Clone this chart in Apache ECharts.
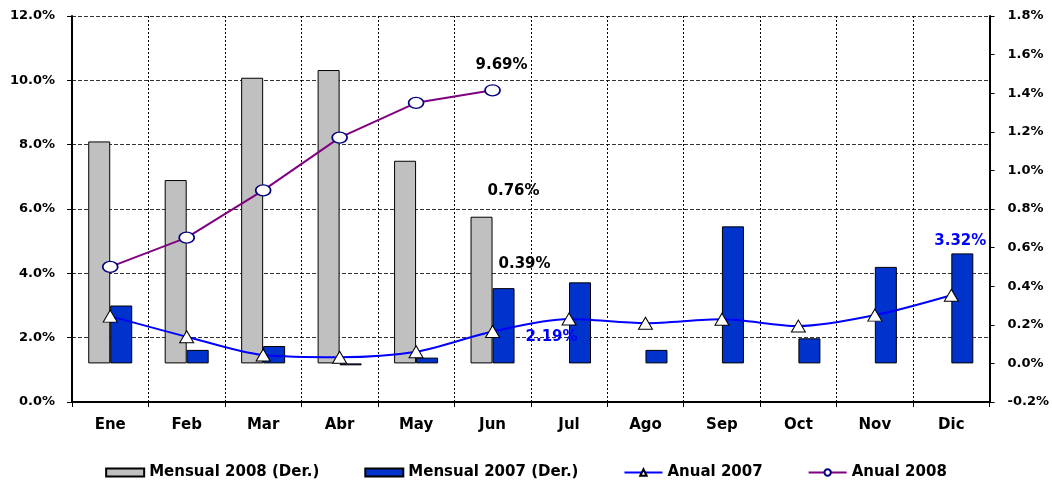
<!DOCTYPE html>
<html>
<head>
<meta charset="utf-8">
<script src="https://cdn.jsdelivr.net/npm/echarts@6/dist/echarts.min.js"></script>
<style>
  html, body { margin: 0; padding: 0; background: #fff; }
  #chart { width: 1052px; height: 481px; }
</style>
</head>
<body>
<div id="chart"></div>
<script>
const months = ['Ene', 'Feb', 'Mar', 'Abr', 'May', 'Jun', 'Jul', 'Ago', 'Sep', 'Oct', 'Nov', 'Dic']
// right axis, monthly change in %
const mensual2008 = [1.15, 0.95, 1.48, 1.52, 1.05, 0.76, null, null, null, null, null, null]
const mensual2007 = [0.30, 0.07, 0.09, -0.01, 0.03, 0.39, 0.42, 0.07, 0.71, 0.13, 0.50, 0.57]
// left axis, yearly change in %
const anual2007 = [2.67, 2.03, 1.46, 1.39, 1.56, 2.19, 2.58, 2.45, 2.57, 2.36, 2.70, 3.32]
const anual2008 = [4.20, 5.11, 6.58, 8.22, 9.30, 9.69, null, null, null, null, null, null]

const font = 'DejaVu Sans, Verdana, sans-serif'
const pct = v => v.toFixed(1) + '%'

// a few points carry a value label
function withLabel(arr, idx, color, offset, position) {
  return arr.map((v, i) => {
    if (i !== idx) return v
    return {
      value: v,
      label: {
        show: true,
        position: position,
        offset: offset,
        formatter: v.toFixed(2) + '%',
        color: color,
        fontFamily: font,
        fontWeight: 'bold',
        fontSize: 15
      }
    }
  })
}

const chart = echarts.init(document.getElementById('chart'))
chart.setOption({
  animation: false,
  grid: { left: 72, right: 62, top: 16, bottom: 79 },
  legend: {
    top: 460,
    itemWidth: 38,
    itemHeight: 8,
    itemGap: 45,
    textStyle: { fontFamily: font, fontWeight: 'bold', fontSize: 15, color: '#000' },
    data: [
      { name: 'Mensual 2008 (Der.)', icon: 'rect' },
      { name: 'Mensual 2007 (Der.)', icon: 'rect' },
      'Anual 2007',
      'Anual 2008'
    ]
  },
  xAxis: {
    type: 'category',
    data: months,
    axisLine: { lineStyle: { color: '#000', width: 2 } },
    axisTick: { show: true, length: 5, lineStyle: { color: '#000' } },
    axisLabel: { margin: 16, color: '#000', fontFamily: font, fontWeight: 'bold', fontSize: 15 },
    splitLine: { show: true, lineStyle: { color: '#000', type: [2, 2], width: 1 } }
  },
  yAxis: [{
    type: 'value',
    min: 0,
    max: 12,
    interval: 2,
    axisLine: { show: true, lineStyle: { color: '#000', width: 2 } },
    axisTick: { show: true, length: 5, lineStyle: { color: '#000' } },
    axisLabel: { margin: 17, formatter: pct, color: '#000', fontFamily: font, fontWeight: 'bold', fontSize: 13 },
    splitLine: { show: true, lineStyle: { color: '#333', type: [4, 2], width: 1 } }
  }, {
    type: 'value',
    min: -0.2,
    max: 1.8,
    interval: 0.2,
    axisLine: { show: true, lineStyle: { color: '#000', width: 2 } },
    axisTick: { show: true, length: 5, lineStyle: { color: '#000' } },
    axisLabel: { margin: 18, formatter: pct, color: '#000', fontFamily: font, fontWeight: 'bold', fontSize: 13 },
    splitLine: { show: false }
  }],
  series: [{
    name: 'Mensual 2008 (Der.)',
    type: 'bar',
    yAxisIndex: 1,
    barWidth: 22,
    barGap: '0%',
    itemStyle: { color: '#C0C0C0', borderColor: '#000', borderWidth: 1 },
    data: withLabel(mensual2008, 5, '#000', [32, -13], 'top')
  }, {
    name: 'Mensual 2007 (Der.)',
    type: 'bar',
    yAxisIndex: 1,
    barWidth: 22,
    barGap: '0%',
    itemStyle: { color: '#0033CC', borderColor: '#000', borderWidth: 1 },
    data: withLabel(mensual2007, 5, '#000', [21, -12], 'top')
  }, {
    name: 'Anual 2007',
    type: 'line',
    yAxisIndex: 0,
    smooth: 0.3,
    symbol: 'triangle',
    symbolSize: [14, 12],
    lineStyle: { color: '#0000FF', width: 2 },
    itemStyle: { color: '#fff', borderColor: '#000', borderWidth: 1 },
    data: (() => {
      const d = withLabel(anual2007, 5, '#0000FF', [59, 6], 'inside')
      const last = withLabel(anual2007, 11, '#0000FF', [9, -54], 'inside')
      d[11] = last[11]
      return d
    })()
  }, {
    name: 'Anual 2008',
    type: 'line',
    yAxisIndex: 0,
    symbol: 'circle',
    symbolSize: [15, 11],
    lineStyle: { color: '#800080', width: 2 },
    itemStyle: { color: '#fff', borderColor: '#000080', borderWidth: 1.5 },
    data: withLabel(anual2008, 5, '#000', [9, -25], 'inside')
  }]
})
</script>
</body>
</html>
